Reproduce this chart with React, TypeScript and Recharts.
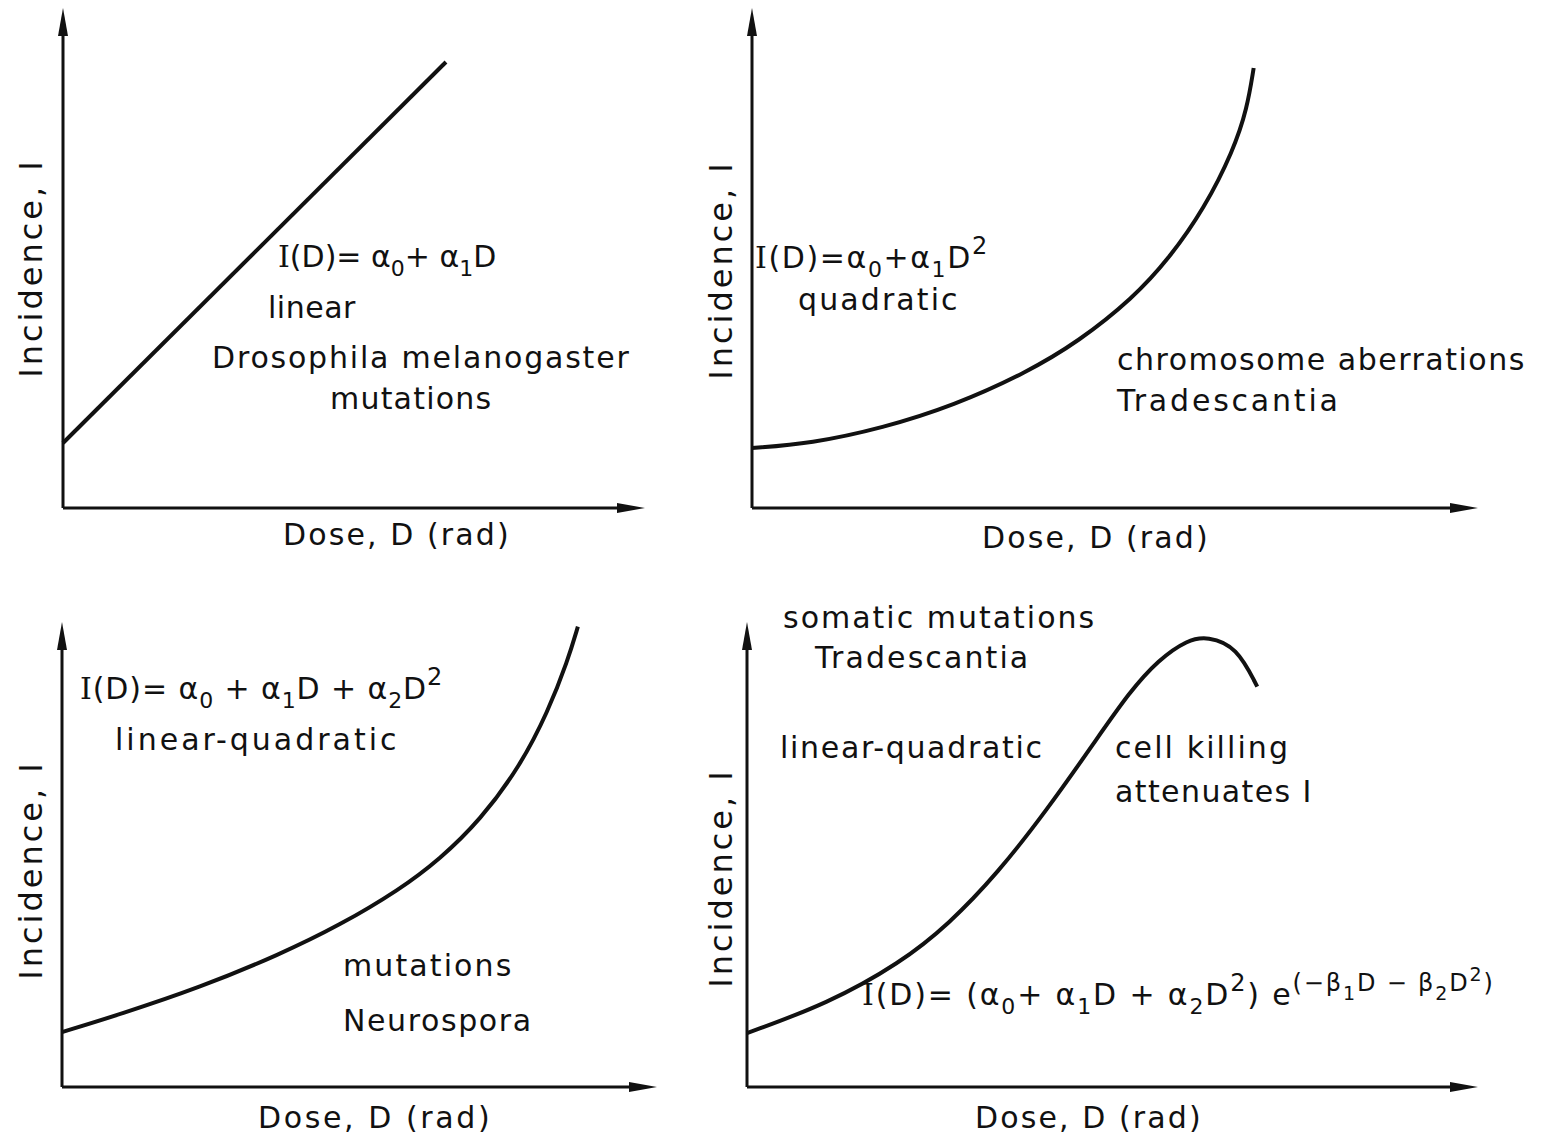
import React from "react";
import { LineChart, Line, XAxis, YAxis, ReferenceLine } from "recharts";

// dose (0..100 along the axis) and incidence (0..100 along the axis)
const linearDose = [0, 65.8];
const linearInc = [13, 89.2];

const quadDose = [0, 8.1, 18, 27.8, 37.7, 45, 52.5, 57.4, 62.3, 66.3, 68.2, 69.1];
const quadInc = [12, 12.9, 16, 20.5, 27, 33.3, 42, 49.8, 59.9, 71.5, 79.9, 88];

const lqDose = [0, 9.7, 23.2, 36.6, 46.7, 56.8, 63.5, 70.3, 77, 81.7, 85, 86.7];
const lqInc = [11.8, 15.6, 21.4, 28.5, 34.8, 42.5, 49, 57.4, 69, 80.8, 91.7, 99];

const killDose = [0, 11, 21, 27.6, 34.3, 41, 47.7, 52.3, 56.3, 60.3, 63, 67, 69.8];
const killInc = [11.6, 17.9, 26.7, 35, 46, 59.5, 74.5, 84.9, 91.9, 96.2, 96.9, 94.7, 86.1];

const xLabel = "Dose, D (rad)";
const yLabel = "Incidence, I";

const rows = (d: number[], v: number[]) => d.map((x, i) => ({ dose: x, inc: v[i] }));

const W = 1544;
const H = 1138;
const FONT = "DejaVu Sans";
const SERIF = "DejaVu Serif";

const ArrowAxis = (p: any) => {
  const { x1, y1, x2, y2 } = p;
  const dx = x2 - x1;
  const dy = y2 - y1;
  const len = Math.sqrt(dx * dx + dy * dy) || 1;
  const ux = dx / len;
  const uy = dy / len;
  const L = 28;
  const w = 5;
  const bx = x2 - ux * L;
  const by = y2 - uy * L;
  const pts = `${x2},${y2} ${bx - uy * w},${by + ux * w} ${bx + uy * w},${by - ux * w}`;
  return (
    <g>
      <line x1={x1} y1={y1} x2={bx} y2={by} stroke="#111" strokeWidth={3} />
      <polygon points={pts} fill="#111" />
    </g>
  );
};

function Panel({ data, margin, type }: { data: any[]; margin: any; type: any }) {
  return (
    <div style={{ position: "absolute", left: 0, top: 0 }}>
      <LineChart width={W} height={H} data={data} margin={margin}>
        <XAxis dataKey="dose" type="number" domain={[0, 100]} hide />
        <YAxis type="number" domain={[0, 100]} hide />
        <ReferenceLine segment={[{ x: 0, y: 0 }, { x: 100, y: 0 }]} shape={ArrowAxis} />
        <ReferenceLine segment={[{ x: 0, y: 0 }, { x: 0, y: 100 }]} shape={ArrowAxis} />
        <Line
          dataKey="inc"
          type={type}
          stroke="#111"
          strokeWidth={4}
          dot={false}
          isAnimationActive={false}
        />
      </LineChart>
    </div>
  );
}

type Seg = { t: string; s?: "sub" | "sup" | "supsub" | "supsup"; serif?: boolean };
const SHIFT: any = { base: 0, sub: 9, sup: -14, supsub: -5, supsup: -24 };
const SIZE: any = { base: 30, sub: 22, sup: 24, supsub: 19, supsup: 19 };

function Formula({ x, y, segs, ls = 1.6 }: { x: number; y: number; segs: Seg[]; ls?: number }) {
  let prev = 0;
  return (
    <text x={x} y={y} fontFamily={FONT} fontSize={30} letterSpacing={ls} fill="#111" style={{ whiteSpace: "pre" }}>
      {segs.map((g, i) => {
        const k = g.s || "base";
        const dy = SHIFT[k] - prev;
        prev = SHIFT[k];
        return (
          <tspan key={i} dy={dy} fontSize={SIZE[k]} fontFamily={g.serif ? SERIF : FONT}>
            {g.t}
          </tspan>
        );
      })}
    </text>
  );
}

const T = ({ x, y, children, ls = 2.1 }: any) => (
  <text x={x} y={y} fontFamily={FONT} fontSize={30} letterSpacing={ls} fill="#111" style={{ whiteSpace: "pre" }}>
    {children}
  </text>
);

const YT = ({ x, y }: any) => (
  <text
    x={x}
    y={y}
    transform={`rotate(-90 ${x} ${y})`}
    textAnchor="middle"
    fontFamily={FONT}
    fontSize={32}
    letterSpacing={3}
    fill="#111"
  >
    {yLabel}
  </text>
);

const f1: Seg[] = [{ t: "I", serif: true }, { t: "(D)= α" }, { t: "0", s: "sub" }, { t: "+ α" }, { t: "1", s: "sub" }, { t: "D" }];
const f2: Seg[] = [
  { t: "I", serif: true }, { t: "(D)=α" }, { t: "0", s: "sub" }, { t: "+α" }, { t: "1", s: "sub" }, { t: "D" }, { t: "2", s: "sup" },
];
const f3: Seg[] = [
  { t: "I", serif: true }, { t: "(D)= α" }, { t: "0", s: "sub" }, { t: " + α" }, { t: "1", s: "sub" },
  { t: "D + α" }, { t: "2", s: "sub" }, { t: "D" }, { t: "2", s: "sup" },
];
const f4: Seg[] = [
  { t: "I", serif: true }, { t: "(D)= (α" }, { t: "0", s: "sub" }, { t: "+ α" }, { t: "1", s: "sub" },
  { t: "D + α" }, { t: "2", s: "sub" }, { t: "D" }, { t: "2", s: "sup" }, { t: ") e" },
  { t: "(−β", s: "sup" }, { t: "1", s: "supsub" }, { t: "D − β", s: "sup" }, { t: "2", s: "supsub" },
  { t: "D", s: "sup" }, { t: "2", s: "supsup" }, { t: ")", s: "sup" },
];

export default function App() {
  return (
    <div style={{ position: "absolute", left: 0, top: 0, width: W, height: H, background: "#fff", overflow: "hidden" }}>
      <Panel data={rows(linearDose, linearInc)} type="linear" margin={{ left: 63, top: 8, right: W - 645, bottom: H - 508 }} />
      <Panel data={rows(quadDose, quadInc)} type="basis" margin={{ left: 752, top: 8, right: W - 1478, bottom: H - 508 }} />
      <Panel data={rows(lqDose, lqInc)} type="basis" margin={{ left: 62, top: 622, right: W - 657, bottom: H - 1087 }} />
      <Panel data={rows(killDose, killInc)} type="basis" margin={{ left: 747, top: 622, right: W - 1478, bottom: H - 1087 }} />

      <svg width={W} height={H} style={{ position: "absolute", left: 0, top: 0, pointerEvents: "none" }}>
        {/* top left */}
        <Formula x={278} y={267} segs={f1} ls={0} />
        <T x={268} y={318} ls={0.5}>linear</T>
        <T x={212} y={368} ls={1.8}>Drosophila melanogaster</T>
        <T x={330} y={409} ls={1.2}>mutations</T>
        <T x={283} y={545}>{xLabel}</T>
        <YT x={42} y={268} />

        {/* top right */}
        <Formula x={755} y={268} segs={f2} ls={1.6} />
        <T x={798} y={310}>quadratic</T>
        <T x={1117} y={370} ls={1.5}>chromosome aberrations</T>
        <T x={1117} y={411} ls={2.8}>Tradescantia</T>
        <T x={982} y={548}>{xLabel}</T>
        <YT x={732} y={270} />

        {/* bottom left */}
        <Formula x={80} y={699} segs={f3} ls={0.9} />
        <T x={115} y={750} ls={3}>linear-quadratic</T>
        <T x={343} y={976}>mutations</T>
        <T x={343} y={1031} ls={1.6}>Neurospora</T>
        <T x={258} y={1128} ls={2.6}>{xLabel}</T>
        <YT x={42} y={870} />

        {/* bottom right */}
        <T x={783} y={628} ls={2}>somatic mutations</T>
        <T x={815} y={668}>Tradescantia</T>
        <T x={780} y={758} ls={1.7}>linear-quadratic</T>
        <T x={1115} y={758}>cell killing</T>
        <T x={1115} y={802} ls={1.4}>attenuates I</T>
        <Formula x={862} y={1005} segs={f4} ls={1.85} />
        <T x={975} y={1128}>{xLabel}</T>
        <YT x={732} y={878} />
      </svg>
    </div>
  );
}
